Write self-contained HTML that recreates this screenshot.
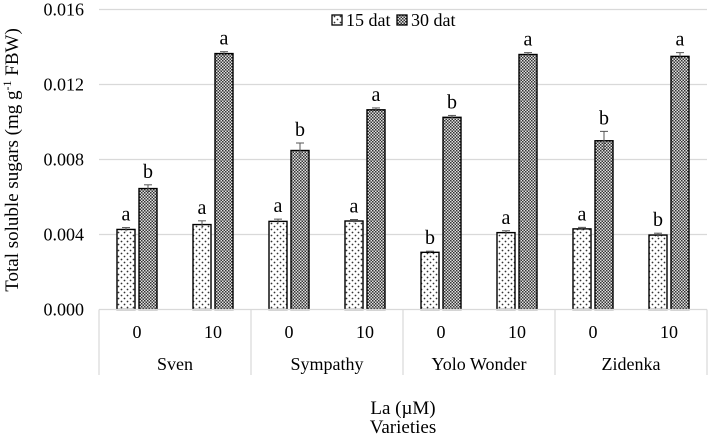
<!DOCTYPE html>
<html><head><meta charset="utf-8"><style>
body{margin:0;background:#fff}
svg text{font-family:"Liberation Serif",serif;fill:#000}
</style></head><body>
<svg id="c" width="709" height="440" viewBox="0 0 709 440">
<defs>
<pattern id="dots" width="6" height="6" patternUnits="userSpaceOnUse"><rect width="6" height="6" fill="#fff"/><circle cx="1.5" cy="1.5" r="0.9" fill="#333"/><circle cx="4.5" cy="4.5" r="0.9" fill="#333"/></pattern>
<pattern id="check" width="3" height="3" patternUnits="userSpaceOnUse"><rect width="3" height="3" fill="#e0e0e0"/><rect width="1.5" height="1.5" fill="#333"/><rect x="1.5" y="1.5" width="1.5" height="1.5" fill="#333"/></pattern>
</defs>
<g id="grid"></g><g id="bars"></g><g id="axes"></g>
<g>
<rect x="332" y="15" width="10" height="10" fill="url(#dots)" stroke="#000" stroke-width="1.3"/>
<text x="346" y="26" font-size="18">15 dat</text>
<rect x="397" y="15" width="10" height="10" fill="url(#check)" stroke="#000" stroke-width="1.3"/>
<text x="411" y="26" font-size="18">30 dat</text>
</g>
<text transform="translate(18,160) rotate(-90)" text-anchor="middle" font-size="19">Total soluble sugars (mg g<tspan font-size="12" dy="-7">-1</tspan><tspan dy="7"> FBW)</tspan></text>
<text x="403" y="414" text-anchor="middle" font-size="19">La (µM)</text>
<text x="403" y="433" text-anchor="middle" font-size="19">Varieties</text>
</svg>
<script>
const varieties=["Sven","Sympathy","Yolo Wonder","Zidenka"];
const doses=["0","10"];
const dat15=[0.00427,0.00453,0.0047,0.00472,0.00305,0.0041,0.0043,0.00397];
const dat30=[0.00645,0.01365,0.00848,0.01065,0.01025,0.0136,0.009,0.0135];
const err15=[0.0001,0.0002,0.00012,0.00008,0.00006,0.0001,0.00008,0.0001];
const err30=[0.0002,0.0001,0.0004,0.0001,0.0001,0.0001,0.0005,0.0002];
const let15=["a","a","a","a","b","a","a","b"];
const let30=["b","a","b","a","b","a","b","a"];
const yTicks=[0,0.004,0.008,0.012,0.016];
const yLabels=["0.000","0.004","0.008","0.012","0.016"];
const NS="http://www.w3.org/2000/svg";
const X0=99,X1=707,Y0=309.5,YT=9.5,YMAX=0.016;
const y=v=>Y0-(v/YMAX)*(Y0-YT);
const sub=(X1-X0)/(varieties.length*doses.length);
const xc=i=>X0+sub*(i+0.5);
function mk(t,a,p){const e=document.createElementNS(NS,t);for(const k in a)e.setAttribute(k,a[k]);p.appendChild(e);return e;}
const grid=document.getElementById('grid'),bars=document.getElementById('bars'),axes=document.getElementById('axes');
yTicks.forEach((t,i)=>{
 if(i>0){const l=mk('line',{x1:X0,x2:X1,y1:y(t),y2:y(t),stroke:'#d9d9d9','stroke-width':1.2},grid);
 
 }
 const tx=mk('text',{x:84,y:y(t)+6,'text-anchor':'end','font-size':18},axes);tx.textContent=yLabels[i];
 
 
});
const bw=18,gap=4;
function bar(i,v,e,lt,fill,off,name){
 const x=xc(i)+off;
 const r=mk('rect',{x:x,y:y(v),width:bw,height:Y0-y(v),fill:fill,stroke:'#000','stroke-width':1.4},bars);
 
 
 const cx=x+bw/2;
 mk('line',{x1:cx,x2:cx,y1:y(v+e),y2:y(v-e),stroke:'#555','stroke-width':1},bars);
 mk('line',{x1:cx-4,x2:cx+4,y1:y(v+e),y2:y(v+e),stroke:'#555','stroke-width':1},bars);
 const t=mk('text',{x:cx,y:y(v+e)-7,'text-anchor':'middle','font-size':20},bars);t.textContent=lt;
 
 
}
dat15.forEach((v,i)=>{
 bar(i,v,err15[i],let15[i],'url(#dots)',-bw-gap/2,'bar-15dat');
 bar(i,dat30[i],err30[i],let30[i],'url(#check)',gap/2,'bar-30dat');
 const t=mk('text',{x:xc(i),y:338,'text-anchor':'middle','font-size':18},axes);t.textContent=doses[i%doses.length];
 
 
});
mk('line',{x1:X0,x2:X1,y1:Y0,y2:Y0,stroke:'#d9d9d9','stroke-width':1.2},axes);
for(let g=0;g<=varieties.length;g++){
 const x=X0+g*sub*doses.length;
 mk('line',{x1:x,x2:x,y1:Y0,y2:375,stroke:'#d9d9d9','stroke-width':1.2},axes);
 if(g<varieties.length){const t=mk('text',{x:x+sub,y:370,'text-anchor':'middle','font-size':18},axes);t.textContent=varieties[g];
 
 }
}
</script>
</body></html>
